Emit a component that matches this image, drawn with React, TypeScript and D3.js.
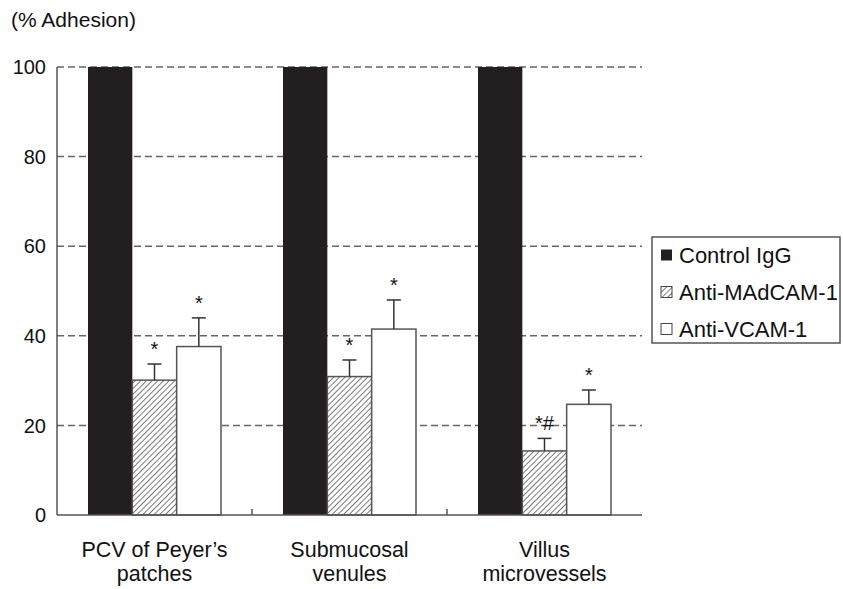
import React from "react";
import * as d3 from "d3";

const categories = [["PCV of Peyer’s", "patches"], ["Submucosal", "venules"], ["Villus", "microvessels"]];
const series = ["Control IgG", "Anti-MAdCAM-1", "Anti-VCAM-1"];
const means = [
  [100, 30.1, 37.6],
  [100, 30.9, 41.5],
  [100, 14.3, 24.7],
];
const errors = [
  [0, 3.6, 6.4],
  [0, 3.7, 6.5],
  [0, 2.8, 3.2],
];
const marks = [
  ["", "*", "*"],
  ["", "*", "*"],
  ["", "*#", "*"],
];
const yTicks = [0, 20, 40, 60, 80, 100];

const width = 843;
const height = 589;
const margin = { top: 67, right: 201, bottom: 74, left: 57 };
const font = "Liberation Sans, Arial, sans-serif";

export default function App() {
  const x0 = d3
    .scaleBand<number>()
    .domain(d3.range(categories.length))
    .range([margin.left, width - margin.right])
    .paddingInner(0)
    .paddingOuter(0);

  const x1 = d3
    .scaleBand<number>()
    .domain(d3.range(series.length))
    .range([31, x0.bandwidth() - 31]);

  const y = d3
    .scaleLinear()
    .domain([0, 100])
    .range([height - margin.bottom, margin.top]);

  const fills = ["#231f20", "url(#hatch)", "#fff"];

  return (
    <svg width={width} height={height} style={{ position: "absolute", left: 0, top: 0 }} fontFamily={font}>
      <defs>
        <pattern id="hatch" patternUnits="userSpaceOnUse" width={4} height={4} patternTransform="rotate(45)">
          <rect width={4} height={4} fill="#fff" />
          <line x1={0} y1={0} x2={0} y2={4} stroke="#333" strokeWidth={1.3} />
        </pattern>
      </defs>

      <text x={11} y={27} fontSize={21} fill="#111">(% Adhesion)</text>

      {yTicks.map(t => (
        <g key={t}>
          {t > 0 && (
            <line
              x1={margin.left}
              x2={width - margin.right}
              y1={y(t)}
              y2={y(t)}
              stroke="#666"
              strokeWidth={1.5}
              strokeDasharray="7,4"
            />
          )}
          <text x={46} y={y(t)} dy="0.36em" textAnchor="end" fontSize={20} fill="#111">
            {t}
          </text>
        </g>
      ))}

      {means.map((row, i) => (
        <g key={i} transform={`translate(${x0(i)},0)`}>
          {row.map((v, j) => (
            <rect
              key={j}
              x={x1(j)}
              y={y(v)}
              width={x1.bandwidth()}
              height={y(0) - y(v)}
              fill={fills[j]}
              stroke={j === 0 ? "#231f20" : "#555"}
              strokeWidth={j === 0 ? 0 : 1.5}
            />
          ))}
          {row.map((v, j) => {
            if (!errors[i][j]) return null;
            const cx = (x1(j) as number) + x1.bandwidth() / 2;
            return (
              <g key={"e" + j} stroke="#333" strokeWidth={1.5}>
                <line x1={cx} x2={cx} y1={y(v)} y2={y(v + errors[i][j])} />
                <line x1={cx - 7} x2={cx + 7} y1={y(v + errors[i][j])} y2={y(v + errors[i][j])} />
              </g>
            );
          })}
          {row.map((v, j) =>
            marks[i][j] ? (
              <text
                key={"m" + j}
                x={(x1(j) as number) + x1.bandwidth() / 2}
                y={y(v + errors[i][j]) - 8}
                textAnchor="middle"
                fontSize={20}
                fill="#111"
              >
                {marks[i][j]}
              </text>
            ) : null
          )}
          {categories[i].map((s, k) => (
            <text
              key={"c" + k}
              x={x0.bandwidth() / 2}
              y={557 + k * 24}
              textAnchor="middle"
              fontSize={21.5}
              fill="#111"
            >
              {s}
            </text>
          ))}
        </g>
      ))}

      <line x1={margin.left} x2={margin.left} y1={y(100)} y2={y(0)} stroke="#555" strokeWidth={1.5} />
      <line x1={margin.left} x2={width - margin.right} y1={y(0)} y2={y(0)} stroke="#555" strokeWidth={1.5} />
      {d3.range(1, categories.length).map(i => (
        <line
          key={i}
          x1={x0(i)}
          x2={x0(i)}
          y1={y(0)}
          y2={y(0) - 6}
          stroke="#555"
          strokeWidth={1.5}
        />
      ))}

      <g>
        <rect x={652} y={237} width={188} height={106} fill="#fff" stroke="#555" strokeWidth={1.5} />
        {series.map((s, j) => (
          <g key={s} transform={`translate(661,${255 + j * 37})`}>
            <rect
              x={0}
              y={-5.5}
              width={11}
              height={11}
              fill={fills[j]}
              stroke={j === 0 ? "#231f20" : "#444"}
              strokeWidth={j === 0 ? 0 : 1}
            />
            <text x={18} y={0} dy="0.36em" fontSize={22} fill="#111">
              {s}
            </text>
          </g>
        ))}
      </g>
    </svg>
  );
}
